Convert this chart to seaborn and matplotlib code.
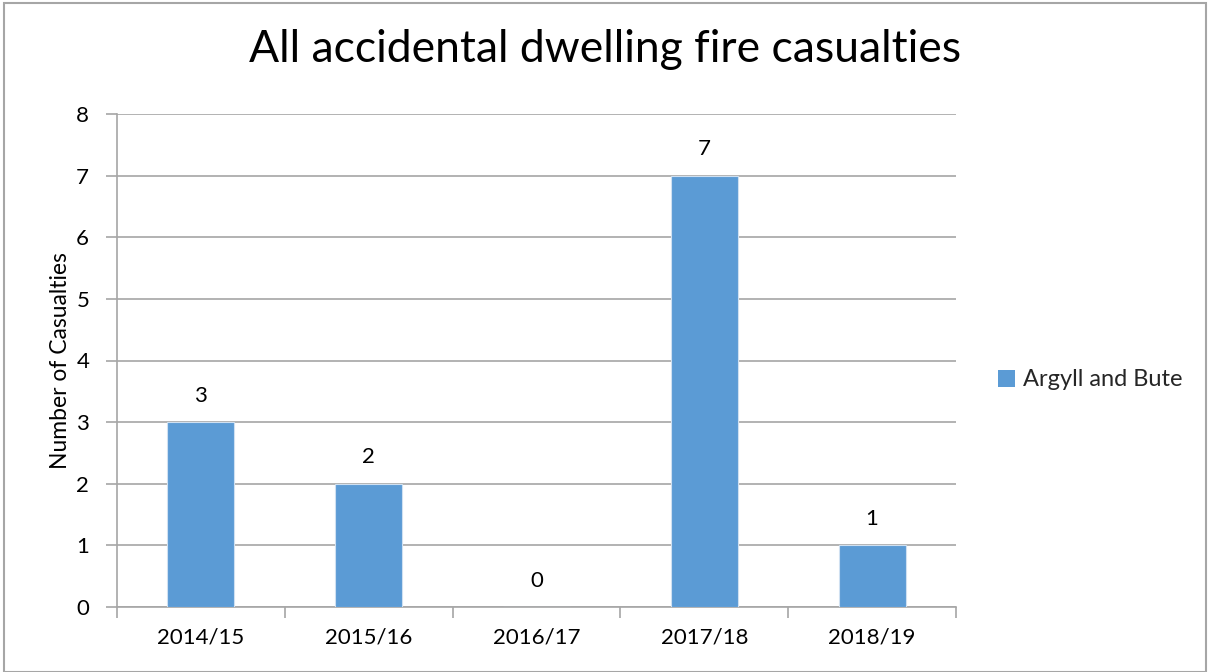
import matplotlib
matplotlib.use("Agg")
import matplotlib.pyplot as plt
import pandas as pd
import seaborn as sns
from matplotlib.patches import Rectangle, Patch

# values
years = ["2014/15", "2015/16", "2016/17", "2017/18", "2018/19"]
casualties = [3, 2, 0, 7, 1]
series_name = "Argyll and Bute"
bar_colour = "#5B9BD5"
grid_colour = "#A6A6A6"

df = pd.DataFrame({"Year": years, "Casualties": casualties})

sns.set_theme(style="white")
plt.rcParams["font.family"] = ["Lato", "DejaVu Sans"]

fig = plt.figure(figsize=(12.1, 6.72), dpi=100)
ax = fig.add_axes([117 / 1210, 1 - 607 / 672, (956 - 117) / 1210, (607 - 114) / 672])

sns.barplot(data=df, x="Year", y="Casualties", color=bar_colour, width=0.4,
            saturation=1, ax=ax, zorder=3, edgecolor="#CFE0F1", linewidth=0.8)

ax.set_ylim(0, 8)
ax.set_xlim(-0.5, len(years) - 0.5)
ax.set_yticks(range(0, 9))
ax.yaxis.grid(True, color=grid_colour, linewidth=1.2, zorder=0)
ax.set_axisbelow(True)

# category boundary ticks on x axis like Excel
ax.set_xticks([i - 0.5 for i in range(len(years) + 1)], minor=True)
ax.tick_params(axis="x", which="minor", length=8, color=grid_colour, width=1.2, direction="out", bottom=True)
ax.tick_params(axis="x", which="major", length=0, labelsize=16, pad=15, labelcolor="#000000")
ax.tick_params(axis="y", length=8, color=grid_colour, width=1.2, direction="out", left=True,
               labelsize=16, pad=12, labelcolor="#000000")

for side in ["top", "right"]:
    ax.spines[side].set_visible(False)
for side in ["left", "bottom"]:
    ax.spines[side].set_color(grid_colour)
    ax.spines[side].set_linewidth(1.2)

ax.set_xlabel("")
ax.set_ylabel("Number of Casualties", fontsize=16.5, color="#000000", labelpad=4)

for i, v in enumerate(casualties):
    ax.annotate(str(v), (i, v), xytext=(0, 19), textcoords="offset points",
                ha="center", va="center", fontsize=16, color="#000000")

fig.text(0.5, 1 - 50 / 672, "All accidental dwelling fire casualties", ha="center", va="center",
         fontsize=32, color="#000000")

handle = Patch(facecolor=bar_colour, edgecolor="none")
fig.legend([handle], [series_name], loc="center left", bbox_to_anchor=(998 / 1210, 1 - 380 / 672),
           frameon=False, fontsize=17, handlelength=0.7, handleheight=0.7, handletextpad=0.35,
           borderaxespad=0, borderpad=0)

# chart-area border
fig.patches.append(Rectangle((4 / 1210, 0), 1 - 8 / 1210, 1 - 3 / 672, transform=fig.transFigure,
                             fill=False, edgecolor=grid_colour, linewidth=1.5))

fig.savefig("out.png", dpi=100)
